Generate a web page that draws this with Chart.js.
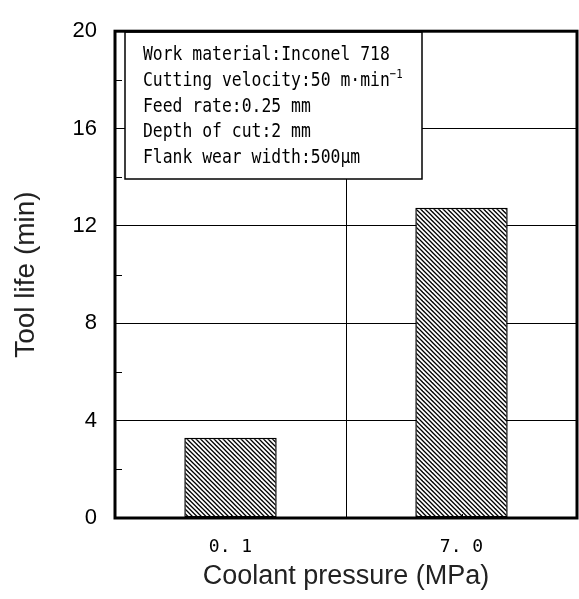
<!DOCTYPE html>
<html>
<head>
<meta charset="utf-8">
<script src="https://cdn.jsdelivr.net/npm/chart.js@4"></script>
<style>
  html, body { margin: 0; padding: 0; background: #fff; }
  #wrap { width: 579px; height: 599px; }
</style>
</head>
<body>
<div id="wrap"><canvas id="toolLifeChart"></canvas></div>
<script>
// data
const pressures = ["0. 1", "7. 0"];
const toolLife = [3.3, 12.75];
const yMajorTicks = [0, 4, 8, 12, 16, 20];
const yMinorTicks = [2, 6, 10, 14, 18];
const conditionLines = [
    "Work material:Inconel 718",
    "Cutting velocity:50 m\u00b7min",
    "Feed rate:0.25 mm",
    "Depth of cut:2 mm",
    "Flank wear width:500\u03bcm"
];

// hatch pattern for bars
function makeHatch() {
    const size = 9;
    const c = document.createElement("canvas");
    c.width = size;
    c.height = size;
    const g = c.getContext("2d");
    g.fillStyle = "#fff";
    g.fillRect(0, 0, size, size);
    g.strokeStyle = "#000";
    g.lineWidth = 1.3;
    for (let off = -size; off <= size; off += 4.5) {
        g.beginPath();
        g.moveTo(off - 1, -1);
        g.lineTo(off + size + 1, size + 1);
        g.stroke();
    }
    return g.createPattern(c, "repeat");
}

// frame, minor ticks and the conditions box
const framePlugin = {
    id: "frame",
    afterDatasetsDraw(chart) {
        const { ctx, chartArea: a, scales } = chart;
        ctx.save();

        // minor ticks on the left axis (inward)
        ctx.strokeStyle = "#000";
        ctx.lineWidth = 1;
        yMinorTicks.forEach(v => {
            const y = Math.round(scales.y.getPixelForValue(v)) + 0.5;
            ctx.beginPath();
            ctx.moveTo(a.left, y);
            ctx.lineTo(a.left + 7, y);
            ctx.stroke();
        });

        // small ticks at category centres
        pressures.forEach((p, i) => {
            const x = Math.round(scales.x.getPixelForValue(i)) + 0.5;
            ctx.beginPath();
            ctx.moveTo(x, a.bottom);
            ctx.lineTo(x, a.bottom - 4);
            ctx.stroke();
        });

        // conditions box
        const bx = 125, by = 32, bw = 297, bh = 147;
        ctx.fillStyle = "#fff";
        ctx.fillRect(bx, by, bw, bh);
        ctx.lineWidth = 1.5;
        ctx.strokeRect(bx, by, bw, bh);

        ctx.fillStyle = "#000";
        ctx.textBaseline = "alphabetic";
        conditionLines.forEach((line, i) => {
            ctx.save();
            ctx.translate(143, 60 + i * 25.8);
            ctx.scale(0.82, 1);
            ctx.font = '20px "DejaVu Sans Mono", monospace';
            ctx.fillText(line, 0, 0);
            if (i === 1) {
                const w = ctx.measureText(line).width;
                ctx.font = '13px "DejaVu Sans Mono", monospace';
                ctx.fillText("\u22121", w, -8);
            }
            ctx.restore();
        });

        // heavy frame
        ctx.lineWidth = 3;
        ctx.strokeRect(a.left, a.top, a.right - a.left, a.bottom - a.top);
        ctx.restore();
    }
};

document.addEventListener("DOMContentLoaded", () => {
    const ctx = document.getElementById("toolLifeChart");

    new Chart(ctx, {
        type: "bar",
        data: {
            labels: pressures,
            datasets: [{
                data: toolLife,
                backgroundColor: makeHatch(),
                borderColor: "#000",
                borderWidth: 1.5,
                borderSkipped: false,
                barPercentage: 0.4,
                categoryPercentage: 1.0
            }]
        },
        options: {
            responsive: true,
            maintainAspectRatio: false,
            animation: false,
            layout: { padding: { left: 9, right: 2, top: 21, bottom: 6 } },
            plugins: {
                legend: { display: false },
                tooltip: { enabled: false }
            },
            scales: {
                x: {
                    offset: true,
                    grid: { color: "#000", lineWidth: 1, offset: true, drawTicks: false },
                    border: { display: false },
                    ticks: {
                        color: "#000",
                        padding: 19,
                        font: { family: '"DejaVu Sans Mono", monospace', size: 18 }
                    },
                    title: {
                        display: true,
                        text: "Coolant pressure (MPa)",
                        color: "#222",
                        padding: 0,
                        font: { family: '"Liberation Sans", sans-serif', size: 27 }
                    },
                    afterFit: s => { s.height = 75; }
                },
                y: {
                    min: 0,
                    max: 20,
                    grid: {
                        color: c => yMajorTicks.includes(c.tick && c.tick.value) ? "#000" : "transparent",
                        lineWidth: 1,
                        drawTicks: false
                    },
                    border: { display: false },
                    ticks: {
                        stepSize: 4,
                        color: "#000",
                        padding: 18,
                        font: { family: '"Liberation Sans", sans-serif', size: 22 }
                    },
                    title: {
                        display: true,
                        text: "Tool life (min)",
                        color: "#222",
                        padding: 0,
                        font: { family: '"Liberation Sans", sans-serif', size: 28 }
                    },
                    afterFit: s => { s.width = 106; }
                }
            }
        },
        plugins: [framePlugin]
    });
});
</script>
</body>
</html>
